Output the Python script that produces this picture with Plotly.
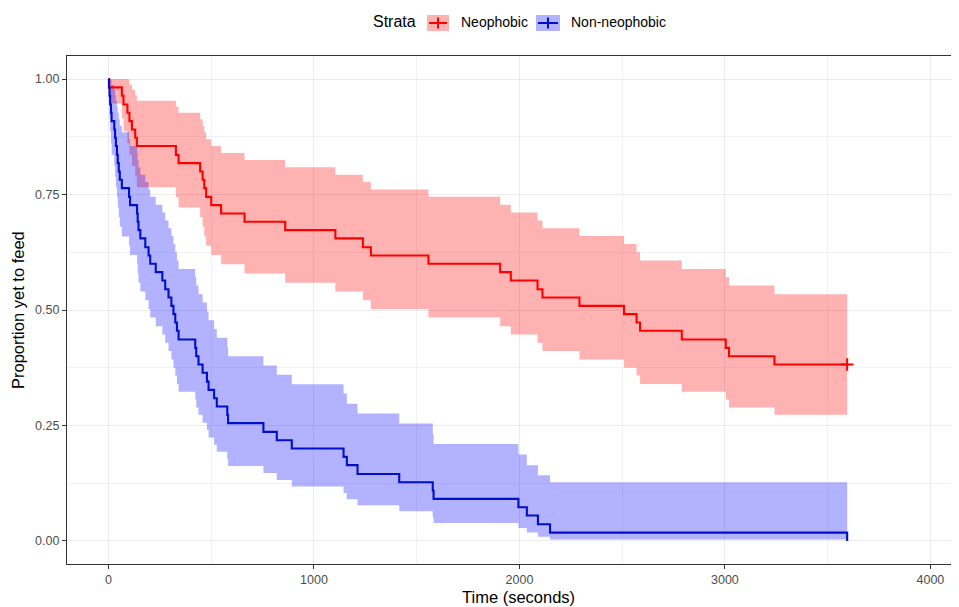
import plotly.graph_objects as go

# ---------------- data ----------------
strata = ["Neophobic", "Non-neophobic"]

# Neophobic: step times (s) and proportion yet to feed after each step
neo_time = [0, 3, 65, 73, 92, 102, 114, 130, 138, 328, 341, 446, 458, 466, 475,
            500, 548, 662, 860, 1104, 1238, 1277, 1557, 1906, 1958, 2088, 2112,
            2292, 2509, 2570, 2587, 2790, 3004, 3020, 3241, 3595]
neo_surv = [1.0, 0.982, 0.964, 0.945, 0.927, 0.909, 0.891, 0.873, 0.855, 0.836,
            0.818, 0.800, 0.782, 0.764, 0.745, 0.727, 0.709, 0.691, 0.673, 0.655,
            0.636, 0.618, 0.600, 0.582, 0.564, 0.545, 0.527, 0.509, 0.491, 0.473,
            0.455, 0.436, 0.418, 0.400, 0.382, 0.382]
neo_upper = [1.0, 1.0, 1.0, 1.0, 0.999, 0.988, 0.977, 0.965, 0.953, 0.940,
             0.927, 0.913, 0.899, 0.885, 0.870, 0.855, 0.840, 0.825, 0.809, 0.793,
             0.777, 0.761, 0.745, 0.728, 0.711, 0.694, 0.677, 0.660, 0.643, 0.625,
             0.607, 0.589, 0.571, 0.553, 0.534, 0.534]
neo_lower = [1.0, 0.947, 0.915, 0.887, 0.861, 0.836, 0.812, 0.789, 0.766, 0.744,
             0.722, 0.701, 0.680, 0.659, 0.639, 0.619, 0.599, 0.579, 0.559, 0.540,
             0.521, 0.502, 0.484, 0.465, 0.447, 0.429, 0.411, 0.393, 0.375, 0.358,
             0.340, 0.323, 0.306, 0.289, 0.273, 0.273]
neo_censor_time = [3595]
neo_censor_surv = [0.382]

# Non-neophobic
non_time = [0, 2, 5, 8, 12, 15, 28, 32, 36, 41, 45, 50, 55, 65, 100, 105, 139,
            142, 146, 155, 179, 195, 203, 230, 262, 276, 292, 306, 316, 325, 333,
            341, 422, 427, 438, 458, 479, 487, 514, 527, 578, 582, 754, 819, 892,
            1144, 1160, 1212, 1415, 1578, 1582, 1995, 2036, 2090, 2149, 3595]
non_surv = [1.0, 0.982, 0.964, 0.945, 0.927, 0.909, 0.891, 0.873, 0.855, 0.836,
            0.818, 0.800, 0.782, 0.764, 0.745, 0.727, 0.709, 0.691, 0.673, 0.655,
            0.636, 0.618, 0.600, 0.582, 0.564, 0.545, 0.527, 0.509, 0.491, 0.473,
            0.455, 0.436, 0.418, 0.400, 0.382, 0.364, 0.345, 0.327, 0.309, 0.291,
            0.273, 0.255, 0.236, 0.218, 0.200, 0.182, 0.164, 0.145, 0.127, 0.109,
            0.091, 0.073, 0.055, 0.036, 0.018, 0.0]
non_upper = [1.0, 1.0, 1.0, 1.0, 0.999, 0.988, 0.977, 0.965, 0.953, 0.940,
             0.927, 0.913, 0.899, 0.885, 0.870, 0.855, 0.840, 0.825, 0.809, 0.793,
             0.777, 0.761, 0.745, 0.728, 0.711, 0.694, 0.677, 0.660, 0.643, 0.625,
             0.607, 0.589, 0.571, 0.553, 0.534, 0.516, 0.497, 0.478, 0.459, 0.440,
             0.420, 0.400, 0.380, 0.360, 0.339, 0.319, 0.297, 0.276, 0.254, 0.232,
             0.210, 0.187, 0.164, 0.142, 0.127, 0.127]
non_lower = [1.0, 0.947, 0.915, 0.887, 0.861, 0.836, 0.812, 0.789, 0.766, 0.744,
             0.722, 0.701, 0.680, 0.659, 0.639, 0.619, 0.599, 0.579, 0.559, 0.540,
             0.521, 0.502, 0.484, 0.465, 0.447, 0.429, 0.411, 0.393, 0.375, 0.358,
             0.340, 0.323, 0.306, 0.289, 0.273, 0.256, 0.240, 0.224, 0.208, 0.193,
             0.177, 0.162, 0.147, 0.132, 0.118, 0.104, 0.090, 0.077, 0.064, 0.051,
             0.039, 0.028, 0.018, 0.009, 0.003, 0.003]

x_ticks = [0, 1000, 2000, 3000, 4000]
y_ticks = [0.0, 0.25, 0.5, 0.75, 1.0]
y_tick_labels = ["0.00", "0.25", "0.50", "0.75", "1.00"]

# ---------------- styling ----------------
RED = "#FF0000"
BLUE = "#0010C8"
RED_FILL = "rgba(255,0,0,0.3)"
BLUE_FILL = "rgba(0,0,255,0.3)"
FONT = "Liberation Sans, Arial, sans-serif"

OFF = 8                      # page body margin of the html page
W, H = 959 - OFF, 607 - OFF  # figure size so it ends at the window edge
# plot-area edges in window pixels
P_LEFT, P_RIGHT, P_TOP, P_BOTTOM = 67, 953, 56, 564
L, T = P_LEFT - OFF, P_TOP - OFF
R = W - (P_RIGHT - OFF)
B = H - (P_BOTTOM - OFF)
PW, PH = W - L - R, H - T - B


def px(x):
    """window x pixel -> paper coordinate"""
    return (x - OFF - L) / PW


def py(y):
    """window y pixel -> paper coordinate"""
    return (T + PH - (y - OFF)) / PH


fig = go.Figure()

# confidence bands
for t, lo, up, fill in [(neo_time, neo_lower, neo_upper, RED_FILL),
                        (non_time, non_lower, non_upper, BLUE_FILL)]:
    fig.add_trace(go.Scatter(x=t, y=lo, mode="lines", line=dict(width=0, shape="hv"),
                             hoverinfo="skip", showlegend=False))
    fig.add_trace(go.Scatter(x=t, y=up, mode="lines", line=dict(width=0, shape="hv"),
                             fill="tonexty", fillcolor=fill, hoverinfo="skip",
                             showlegend=False))

# survival curves
fig.add_trace(go.Scatter(x=neo_time, y=neo_surv, mode="lines", name=strata[0],
                         line=dict(color=RED, width=2.1, shape="hv"), showlegend=False))
fig.add_trace(go.Scatter(x=non_time, y=non_surv, mode="lines", name=strata[1],
                         line=dict(color=BLUE, width=2.1, shape="hv"), showlegend=False))
fig.add_trace(go.Scatter(x=neo_censor_time, y=neo_censor_surv, mode="markers",
                         marker=dict(symbol="cross-thin", size=9,
                                     line=dict(color=RED, width=2)),
                         showlegend=False, hoverinfo="skip"))

# ---------------- manual legend (top) ----------------
shapes = []
annotations = []
annotations.append(dict(x=px(371), y=py(22), xref="paper", yref="paper",
                        text="Strata", showarrow=False, xanchor="left", yanchor="middle",
                        font=dict(family=FONT, size=16, color="#000000")))
for (x0, x1, lbl_x, name, col, fill) in [(427, 449, 459, strata[0], RED, RED_FILL),
                                         (536, 560, 569, strata[1], BLUE, BLUE_FILL)]:
    shapes.append(dict(type="rect", xref="paper", yref="paper",
                       x0=px(x0), x1=px(x1), y0=py(31), y1=py(15),
                       fillcolor=fill, line=dict(width=0), layer="above"))
    cx = (x0 + x1) / 2
    shapes.append(dict(type="line", xref="paper", yref="paper",
                       x0=px(x0 + 2), x1=px(x1 - 2), y0=py(23), y1=py(23),
                       line=dict(color=col, width=2), layer="above"))
    shapes.append(dict(type="line", xref="paper", yref="paper",
                       x0=px(cx), x1=px(cx), y0=py(28.5), y1=py(17.5),
                       line=dict(color=col, width=2), layer="above"))
    annotations.append(dict(x=px(lbl_x), y=py(22.5), xref="paper", yref="paper",
                            text=name, showarrow=False, xanchor="left", yanchor="middle",
                            font=dict(family=FONT, size=14, color="#000000")))

# axis titles
annotations.append(dict(x=px(519), y=py(597), xref="paper", yref="paper",
                        text="Time (seconds)", showarrow=False,
                        xanchor="center", yanchor="middle",
                        font=dict(family=FONT, size=16.5, color="#000000")))
annotations.append(dict(x=px(18), y=py(310), xref="paper", yref="paper",
                        text="Proportion yet to feed", showarrow=False, textangle=-90,
                        xanchor="center", yanchor="middle",
                        font=dict(family=FONT, size=16.5, color="#000000")))

axis_common = dict(
    showline=True, linecolor="#333333", linewidth=1.3, mirror=True,
    ticks="outside", ticklen=4, tickwidth=1.2, tickcolor="#333333",
    showgrid=True, gridcolor="#EBEBEB", gridwidth=1.3, zeroline=False,
    tickfont=dict(family=FONT, size=12.5, color="#4D4D4D"),
)

fig.update_layout(
    width=W, height=H, autosize=False,
    margin=dict(l=L, r=R, t=T, b=B),
    paper_bgcolor="white", plot_bgcolor="white",
    showlegend=False,
    shapes=shapes, annotations=annotations,
    xaxis=dict(range=[-202, 4110], tickmode="array", tickvals=x_ticks,
               ticktext=[str(v) for v in x_ticks],
               minor=dict(tickvals=[500, 1500, 2500, 3500], showgrid=True,
                          gridcolor="#F2F2F2", gridwidth=0.8, ticks=""),
               **axis_common),
    yaxis=dict(range=[-0.05, 1.05], tickmode="array", tickvals=y_ticks,
               ticktext=y_tick_labels,
               minor=dict(tickvals=[0.125, 0.375, 0.625, 0.875], showgrid=True,
                          gridcolor="#F2F2F2", gridwidth=0.8, ticks=""),
               **axis_common),
)

fig.write_html("out.html")
